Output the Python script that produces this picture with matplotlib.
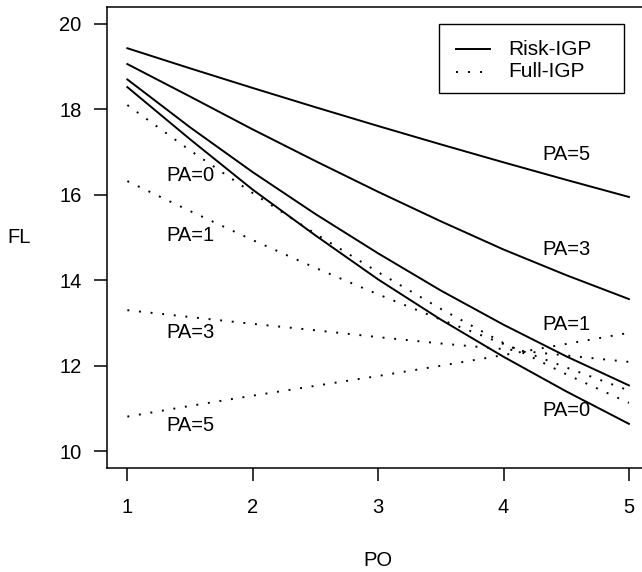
import matplotlib
matplotlib.use("Agg")
import matplotlib.pyplot as plt
from matplotlib.patches import Rectangle
from matplotlib.lines import Line2D

# fitted FL values, PO = 1..5
po = [1, 1.5, 2, 2.5, 3, 3.5, 4, 4.5, 5]

risk_pa0 = [18.52, 17.30, 16.12, 15.05, 14.02, 13.08, 12.21, 11.40, 10.64]
risk_pa1 = [18.70, 17.58, 16.53, 15.55, 14.63, 13.76, 12.96, 12.22, 11.54]
risk_pa3 = [19.06, 18.30, 17.53, 16.79, 16.07, 15.38, 14.72, 14.12, 13.56]
risk_pa5 = [19.43, 18.96, 18.50, 18.05, 17.61, 17.18, 16.76, 16.35, 15.95]

full_pa0 = [18.10, 17.04, 16.04, 15.09, 14.19, 13.33, 12.53, 11.80, 11.13]
full_pa1 = [16.32, 15.62, 14.94, 14.29, 13.67, 13.08, 12.51, 11.96, 11.42]
full_pa3 = [13.30, 13.14, 12.98, 12.83, 12.67, 12.52, 12.39, 12.24, 12.09]
full_pa5 = [10.81, 11.06, 11.30, 11.53, 11.76, 12.00, 12.25, 12.51, 12.77]

# curve labels: (text, PO, FL)
left_labels = [("PA=0", 1.5, 16.46), ("PA=1", 1.5, 15.05),
               ("PA=3", 1.5, 12.77), ("PA=5", 1.5, 10.60)]
right_labels = [("PA=5", 4.5, 16.95), ("PA=3", 4.5, 14.73),
                ("PA=1", 4.5, 12.97), ("PA=0", 4.5, 10.96)]

legend_names = ["Risk-IGP", "Full-IGP"]

plt.rcParams['font.family'] = ['Liberation Sans', 'DejaVu Sans']
fs = 14.5
W, H = 642, 572

fig = plt.figure(figsize=(W / 100, H / 100), dpi=100)
ax = fig.add_axes([107.3 / W, 1 - 468.3 / H, (649 - 107.3) / W, (468.3 - 6.8) / H])

dotted = (0, (1, 5))
for ys in [risk_pa0, risk_pa1, risk_pa3, risk_pa5]:
    ax.plot(po, ys, color='black', lw=1.4)
for ys in [full_pa0, full_pa1, full_pa3, full_pa5]:
    ax.plot(po, ys, color='black', lw=1.4, linestyle=dotted)

for txt, x, y in left_labels + right_labels:
    ax.text(x, y, txt, ha='center', va='center', fontsize=fs)

ax.set_xlim(0.84, 5.16)
ax.set_ylim(9.6, 20.4)
ax.set_xticks([1, 2, 3, 4, 5])
ax.set_yticks([10, 12, 14, 16, 18, 20])
ax.tick_params(direction='out', length=9.4, width=1.1, labelsize=fs)
ax.tick_params(axis='x', pad=12)
ax.tick_params(axis='y', pad=9)
for s in ax.spines.values():
    s.set_linewidth(1.1)

# legend box drawn R-style (fixed box, wide right margin)
def fx(px):
    return px / W

def fy(py):
    return 1 - py / H

fig.patches.append(Rectangle((fx(439), fy(93)), fx(624) - fx(439), fy(24) - fy(93),
                             transform=fig.transFigure, facecolor='white',
                             edgecolor='black', lw=1.0, zorder=5))
for name, ls, py in zip(legend_names, ['-', (0, (1, 5.2))], [49.3, 71.7]):
    fig.lines.append(Line2D([fx(456), fx(490)], [fy(py), fy(py)],
                            transform=fig.transFigure, color='black', lw=1.4,
                            linestyle=ls, zorder=6))
    fig.text(fx(508), fy(py), name, ha='left', va='center', fontsize=15, zorder=6)

fig.text(fx(18.7), fy(237.4), "FL", ha='center', va='center', fontsize=fs)
fig.text(fx(378), fy(560), "PO", ha='center', va='center', fontsize=fs)

fig.savefig("out.png", dpi=100)
